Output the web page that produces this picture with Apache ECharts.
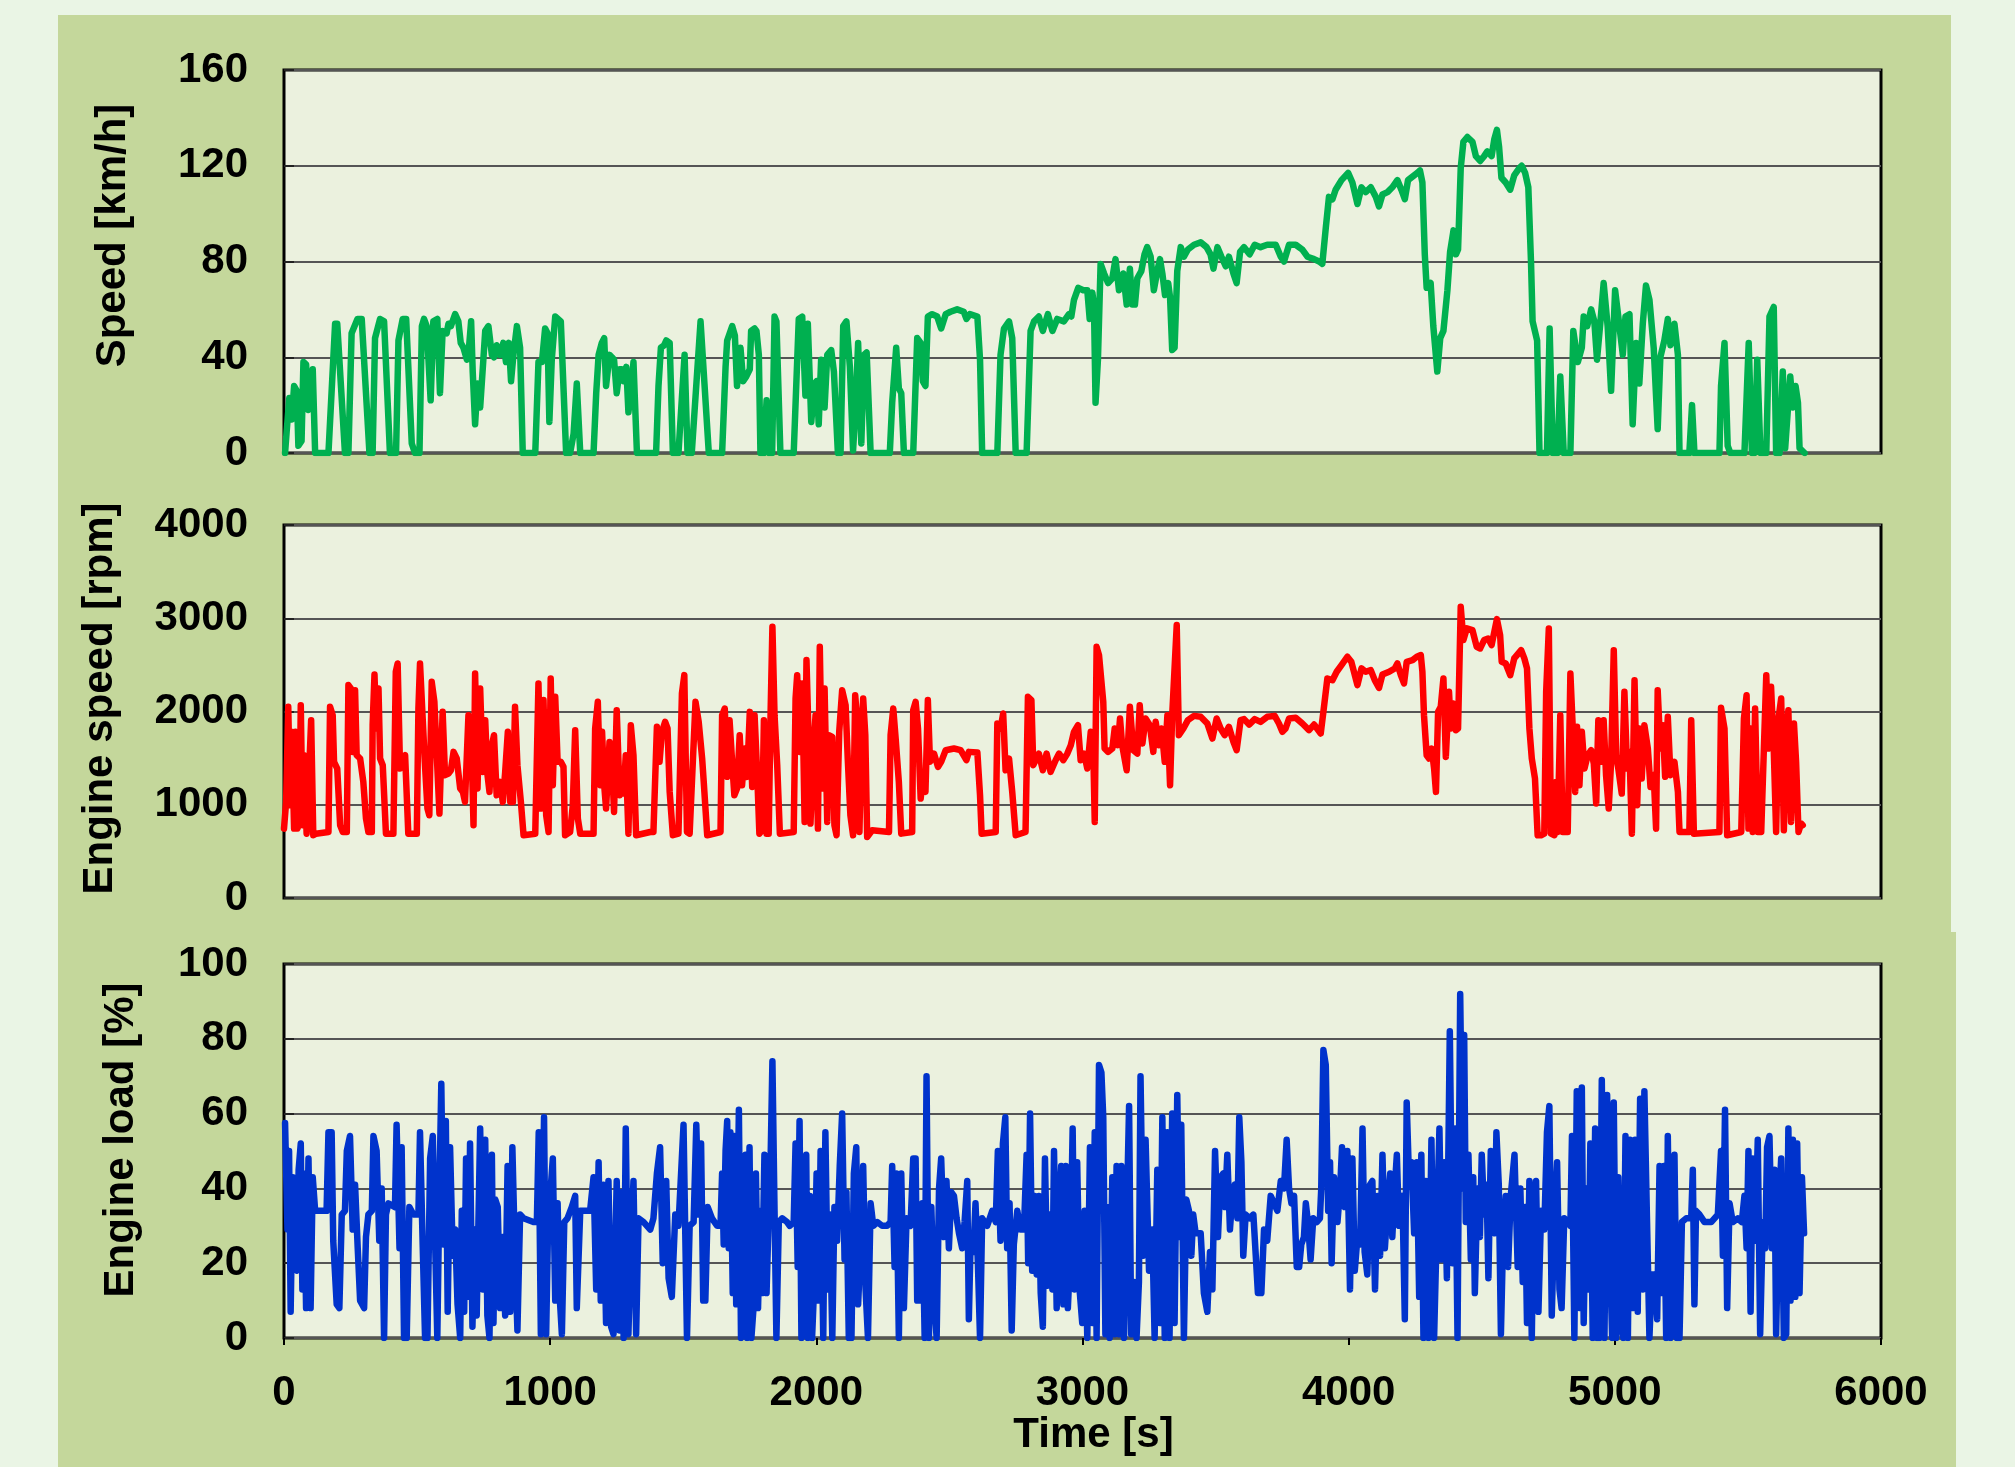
<!DOCTYPE html>
<html><head><meta charset="utf-8">
<script src="https://cdn.jsdelivr.net/npm/echarts/dist/echarts.min.js"></script>
<style>html,body{margin:0;padding:0;background:#eaf5e5;}#c{width:2015px;height:1467px;}</style>
</head><body><div id="c"></div>
<script>
// [time s, speed km/h]
const speedData = [[4,0],[10,9],[20,23],[29,14],[38,28],[48,26],[54,3],[66,5],[73,38],[83,37],[91,18],[100,19],[108,35],[117,0],[167,0],[192,54],[200,54],[229,0],[242,0],[254,50],[276,56],[292,56],[321,0],[333,0],[342,48],[361,56],[376,55],[398,0],[421,0],[430,47],[446,56],[459,56],[480,4],[492,0],[509,0],[518,53],[526,56],[536,53],[551,22],[561,55],[576,56],[586,25],[596,51],[611,50],[618,54],[627,53],[643,58],[655,55],[664,46],[674,44],[687,39],[695,44],[703,55],[709,34],[718,12],[727,29],[737,19],[749,39],[756,51],[768,53],[781,41],[789,40],[799,45],[812,41],[824,46],[834,38],[845,46],[853,30],[862,41],[875,53],[887,44],[897,0],[944,0],[956,38],[969,38],[981,52],[990,50],[997,13],[1006,39],[1019,57],[1040,55],[1060,0],[1075,0],[1088,8],[1100,29],[1113,0],[1163,0],[1173,25],[1182,41],[1194,46],[1203,48],[1210,28],[1223,41],[1232,40],[1240,39],[1250,25],[1261,35],[1269,35],[1276,30],[1286,36],[1294,17],[1303,25],[1313,38],[1326,0],[1398,0],[1407,28],[1416,44],[1428,45],[1436,47],[1449,46],[1461,0],[1482,0],[1505,41],[1516,0],[1532,0],[1565,55],[1596,0],[1646,0],[1659,36],[1665,47],[1684,53],[1694,49],[1702,28],[1715,44],[1725,30],[1737,32],[1750,35],[1755,51],[1768,52],[1775,51],[1784,41],[1790,0],[1803,0],[1813,22],[1823,0],[1834,0],[1843,57],[1850,55],[1865,0],[1915,0],[1934,56],[1947,57],[1959,24],[1968,54],[1981,13],[1993,29],[2001,30],[2009,12],[2018,39],[2031,19],[2041,41],[2056,43],[2066,34],[2081,0],[2091,0],[2101,53],[2113,55],[2126,36],[2138,1],[2147,18],[2157,46],[2169,4],[2179,41],[2189,42],[2204,0],[2276,0],[2285,21],[2300,44],[2310,27],[2319,25],[2329,0],[2364,0],[2379,48],[2392,46],[2400,30],[2410,28],[2419,57],[2435,58],[2454,57],[2469,52],[2486,58],[2504,59],[2529,60],[2554,59],[2564,56],[2577,58],[2605,57],[2615,39],[2623,0],[2680,0],[2692,41],[2705,52],[2724,55],[2736,48],[2749,0],[2790,0],[2805,51],[2818,55],[2836,57],[2851,51],[2870,58],[2887,51],[2905,56],[2930,55],[2949,58],[2958,57],[2968,64],[2984,69],[3003,68],[3018,68],[3027,56],[3037,67],[3043,62],[3049,21],[3058,39],[3068,79],[3081,75],[3096,71],[3112,73],[3124,81],[3137,68],[3153,75],[3166,62],[3178,77],[3187,62],[3197,62],[3206,73],[3221,76],[3233,83],[3243,86],[3256,82],[3268,68],[3281,76],[3291,81],[3300,75],[3310,66],[3322,71],[3329,65],[3337,43],[3346,44],[3356,76],[3369,86],[3381,82],[3396,85],[3419,87],[3444,88],[3466,86],[3481,83],[3492,77],[3507,86],[3522,82],[3538,78],[3550,82],[3567,75],[3579,71],[3592,84],[3607,86],[3628,83],[3647,87],[3669,86],[3694,87],[3726,87],[3745,82],[3757,80],[3776,87],[3801,87],[3826,85],[3845,82],[3870,81],[3889,80],[3901,79],[3914,94],[3926,107],[3939,106],[3951,110],[3973,114],[3998,117],[4014,113],[4033,104],[4048,111],[4064,109],[4083,111],[4102,107],[4114,103],[4127,108],[4146,109],[4164,111],[4183,114],[4198,110],[4211,106],[4223,114],[4246,116],[4258,117],[4268,118],[4277,113],[4286,83],[4293,69],[4308,71],[4318,53],[4333,34],[4344,48],[4356,51],[4371,68],[4381,84],[4394,93],[4403,83],[4411,85],[4421,119],[4431,130],[4446,132],[4465,130],[4478,124],[4494,122],[4509,124],[4521,126],[4537,124],[4547,131],[4557,135],[4565,128],[4574,115],[4590,113],[4607,110],[4622,116],[4641,119],[4650,120],[4663,117],[4675,111],[4685,80],[4691,55],[4708,47],[4717,0],[4745,0],[4755,52],[4767,0],[4785,0],[4795,32],[4808,0],[4833,0],[4844,51],[4861,38],[4876,44],[4883,57],[4896,53],[4911,60],[4923,55],[4933,39],[4946,55],[4958,71],[4973,53],[4986,26],[5001,68],[5013,57],[5030,41],[5040,57],[5055,58],[5067,12],[5080,46],[5092,29],[5105,54],[5117,70],[5130,64],[5146,44],[5161,10],[5171,40],[5186,47],[5199,56],[5209,45],[5224,54],[5237,41],[5243,0],[5280,0],[5290,20],[5299,0],[5393,0],[5399,28],[5412,46],[5424,3],[5434,0],[5487,0],[5503,46],[5515,0],[5525,0],[5535,39],[5547,0],[5569,0],[5581,57],[5597,61],[5606,0],[5619,0],[5631,34],[5640,2],[5650,18],[5659,32],[5669,19],[5679,28],[5688,21],[5694,2],[5713,0]];

// [time s, engine speed rpm]
const rpmData = [[0,744],[8,1030],[16,2050],[23,995],[29,1782],[38,744],[43,1782],[50,744],[58,798],[63,2068],[70,780],[75,1531],[85,690],[92,673],[102,1907],[110,673],[120,690],[167,708],[173,2050],[183,1960],[188,1460],[200,1388],[211,780],[221,708],[236,708],[242,2283],[251,2247],[258,1567],[267,2229],[273,1531],[286,1496],[298,1245],[308,852],[317,708],[330,708],[333,1853],[340,2397],[346,1818],[355,2247],[361,1496],[371,1424],[383,690],[411,690],[420,2426],[427,2515],[436,1388],[446,1496],[455,1531],[467,690],[499,690],[505,2032],[511,2515],[521,1925],[529,1460],[539,959],[546,887],[555,2318],[565,2104],[574,1531],[584,905],[596,1996],[605,1317],[618,1335],[627,1370],[637,1567],[649,1496],[662,1174],[672,1138],[680,1030],[693,1960],[702,1925],[712,780],[718,2408],[727,1174],[737,2247],[747,1352],[756,1907],[764,1335],[772,1138],[781,1639],[789,1746],[799,1102],[812,1245],[822,1030],[831,1352],[841,1782],[850,1030],[860,1030],[868,2050],[877,1424],[890,1030],[900,673],[944,690],[956,2301],[965,959],[975,2122],[985,887],[994,708],[1002,2354],[1010,1209],[1019,2157],[1028,1460],[1040,1460],[1050,1406],[1056,673],[1075,708],[1085,995],[1094,1800],[1104,852],[1113,690],[1163,690],[1169,1818],[1179,2104],[1188,1209],[1195,1782],[1203,1209],[1210,959],[1223,1674],[1232,1460],[1240,923],[1250,2014],[1261,1102],[1269,1352],[1276,1120],[1284,1531],[1294,690],[1303,1853],[1313,1531],[1323,673],[1376,708],[1388,708],[1401,1836],[1411,1460],[1420,1782],[1432,1889],[1441,1818],[1449,1138],[1461,673],[1482,690],[1495,2193],[1504,2390],[1514,708],[1524,690],[1546,2104],[1558,1889],[1571,1496],[1577,1245],[1590,673],[1640,708],[1646,1960],[1656,2032],[1665,1299],[1674,1907],[1684,1442],[1692,1102],[1702,1174],[1712,1746],[1721,1209],[1731,1603],[1740,1299],[1750,1996],[1759,1191],[1768,1960],[1778,1317],[1786,690],[1796,726],[1803,1907],[1813,690],[1821,690],[1828,1960],[1835,2909],[1843,1960],[1853,1424],[1863,690],[1915,708],[1922,2140],[1928,2390],[1938,1567],[1947,2301],[1956,816],[1963,2551],[1972,1603],[1978,798],[1988,1531],[1997,1960],[2006,744],[2013,2694],[2022,1174],[2031,2247],[2041,816],[2047,1746],[2060,1728],[2068,780],[2076,673],[2086,1782],[2097,2229],[2110,2068],[2118,1496],[2128,887],[2138,673],[2146,2175],[2154,1889],[2162,708],[2169,1674],[2176,2140],[2184,1746],[2191,655],[2210,726],[2273,708],[2279,1746],[2289,2032],[2298,1710],[2310,1245],[2319,690],[2360,708],[2364,2014],[2373,2104],[2382,1818],[2392,1066],[2400,1281],[2410,1138],[2419,2122],[2427,1460],[2442,1549],[2457,1406],[2469,1460],[2486,1585],[2517,1603],[2542,1585],[2564,1478],[2573,1567],[2605,1560],[2615,1102],[2621,690],[2674,708],[2680,1871],[2692,1818],[2702,1978],[2711,1370],[2724,1496],[2736,1138],[2749,673],[2786,708],[2795,2157],[2808,2122],[2815,1424],[2836,1549],[2851,1370],[2865,1549],[2880,1352],[2899,1478],[2912,1549],[2928,1478],[2943,1549],[2956,1639],[2968,1782],[2983,1853],[2993,1478],[3006,1549],[3018,1388],[3031,1782],[3041,1513],[3046,816],[3053,2694],[3062,2605],[3078,2104],[3083,1603],[3096,1567],[3112,1603],[3121,1818],[3133,1639],[3141,1925],[3149,1639],[3166,1370],[3178,2050],[3191,1585],[3206,1549],[3215,2068],[3225,1657],[3237,1925],[3253,1853],[3266,1567],[3275,1889],[3287,1639],[3297,1818],[3309,1460],[3319,1960],[3329,1209],[3337,1960],[3354,2927],[3362,1746],[3379,1818],[3396,1907],[3419,1953],[3444,1943],[3469,1871],[3488,1710],[3504,1925],[3519,1818],[3534,1746],[3550,1836],[3567,1674],[3579,1585],[3594,1907],[3607,1918],[3626,1860],[3647,1918],[3669,1889],[3694,1943],[3722,1953],[3738,1871],[3751,1782],[3763,1818],[3776,1925],[3801,1932],[3826,1871],[3851,1800],[3870,1860],[3895,1764],[3905,1996],[3920,2354],[3939,2336],[3955,2426],[3973,2497],[3995,2587],[4010,2533],[4033,2283],[4048,2462],[4064,2426],[4083,2444],[4098,2336],[4114,2254],[4127,2397],[4152,2426],[4173,2462],[4183,2515],[4196,2390],[4208,2301],[4218,2533],[4240,2551],[4256,2587],[4271,2605],[4277,2426],[4283,1960],[4293,1531],[4302,1496],[4312,1603],[4321,1388],[4328,1138],[4336,1996],[4346,2050],[4356,2354],[4365,1513],[4377,2211],[4384,1818],[4394,2086],[4403,1800],[4411,1818],[4421,3123],[4431,2766],[4444,2891],[4465,2873],[4481,2694],[4494,2676],[4509,2766],[4524,2783],[4537,2712],[4557,2991],[4569,2819],[4575,2533],[4590,2515],[4607,2390],[4622,2569],[4648,2658],[4660,2569],[4670,2462],[4679,1818],[4688,1496],[4700,1281],[4710,673],[4723,673],[4735,690],[4742,2211],[4752,2891],[4760,690],[4773,673],[4779,1245],[4785,708],[4795,1960],[4804,708],[4823,708],[4833,2408],[4842,1818],[4851,1138],[4858,1836],[4867,1209],[4876,1782],[4886,1388],[4898,1531],[4911,1585],[4921,1442],[4930,1013],[4938,1907],[4948,1460],[4958,1907],[4967,1317],[4977,959],[4986,1460],[4996,2658],[5005,1531],[5013,1388],[5026,1120],[5036,2211],[5046,1388],[5055,1567],[5064,690],[5074,2336],[5084,995],[5092,1818],[5101,1281],[5111,1853],[5124,1603],[5134,1191],[5146,1317],[5155,744],[5161,2229],[5171,1603],[5180,1853],[5189,1299],[5199,1943],[5209,1317],[5224,1460],[5237,1138],[5243,708],[5280,708],[5287,1907],[5297,690],[5393,708],[5399,2039],[5412,1818],[5422,673],[5475,708],[5485,1925],[5495,2175],[5502,744],[5510,1818],[5518,708],[5527,2032],[5537,708],[5550,708],[5560,1603],[5569,2390],[5577,1603],[5587,2265],[5597,1603],[5606,708],[5615,1925],[5625,2140],[5635,726],[5644,1746],[5652,2014],[5662,816],[5673,1871],[5681,1460],[5690,708],[5700,798],[5706,780]];

// [time s, engine load %]
const loadData = [[4,57.5],[13,29],[19,50],[25,7],[33,43],[40,19],[48,18],[55,45],[63,52],[69,13],[75,44],[83,8],[92,48],[100,8],[108,43],[117,34],[160,34],[167,55],[179,55],[185,26],[198,9],[208,8],[217,33],[229,34],[236,50],[248,54],[258,29],[267,41],[277,24],[286,10],[301,8],[308,27],[317,33],[330,34],[336,54],[348,50],[358,26],[367,40],[376,0],[383,33],[392,36],[417,35],[423,57],[434,24],[442,51],[451,0],[461,0],[471,35],[486,33],[505,33],[511,55],[521,25],[530,0],[539,0],[549,48],[559,54],[568,25],[576,0],[584,40],[591,68],[599,25],[608,58],[615,7],[624,51],[634,22],[643,29],[652,9],[662,0],[668,34],[677,7],[684,48],[693,11],[699,52],[708,3],[716,29],[724,6],[737,56],[747,13],[756,53],[764,6],[772,0],[781,49],[787,4],[794,37],[803,35],[812,8],[821,27],[831,6],[840,46],[850,7],[858,51],[868,22],[877,2],[887,33],[900,32],[937,31],[950,31],[957,55],[965,1],[977,59],[985,1],[994,38],[1002,40],[1010,48],[1019,10],[1028,36],[1035,12],[1044,1],[1053,31],[1065,32],[1081,35],[1094,38],[1100,8],[1113,34],[1150,34],[1163,43],[1173,13],[1182,47],[1190,10],[1200,41],[1210,4],[1219,42],[1229,3],[1238,1],[1250,42],[1261,2],[1269,39],[1276,0],[1284,56],[1294,1],[1303,25],[1313,42],[1323,1],[1332,32],[1351,31],[1376,29],[1388,32],[1401,44],[1413,51],[1423,20],[1436,42],[1445,16],[1457,11],[1470,33],[1482,30],[1501,57],[1514,0],[1524,30],[1539,31],[1549,57],[1558,33],[1567,52],[1575,10],[1583,10],[1592,35],[1608,32],[1627,30],[1640,30],[1646,44],[1652,25],[1659,50],[1665,58],[1671,24],[1677,55],[1686,12],[1692,54],[1699,9],[1709,61],[1717,0],[1725,22],[1734,49],[1740,0],[1749,51],[1756,0],[1765,9],[1773,44],[1781,8],[1790,34],[1796,12],[1805,49],[1813,12],[1821,33],[1828,47],[1835,74],[1843,34],[1850,0],[1859,31],[1872,32],[1890,31],[1900,30],[1915,31],[1922,52],[1930,19],[1937,58],[1944,0],[1953,38],[1962,49],[1968,0],[1976,38],[1984,0],[1993,16],[2001,44],[2009,10],[2016,50],[2026,0],[2034,55],[2043,13],[2051,33],[2060,0],[2068,35],[2078,26],[2088,46],[2097,60],[2106,21],[2113,39],[2122,0],[2132,0],[2141,44],[2150,51],[2157,9],[2166,24],[2176,46],[2185,13],[2194,0],[2204,36],[2214,30],[2229,31],[2247,30],[2266,30],[2279,31],[2285,46],[2294,19],[2301,44],[2310,0],[2319,44],[2329,8],[2339,32],[2354,30],[2364,48],[2373,48],[2379,10],[2389,10],[2398,36],[2407,0],[2414,70],[2423,0],[2432,35],[2442,11],[2452,0],[2461,40],[2469,48],[2479,27],[2489,42],[2498,24],[2507,39],[2517,38],[2527,32],[2536,28],[2548,24],[2557,31],[2567,42],[2573,5],[2580,27],[2590,23],[2598,36],[2607,20],[2615,0],[2623,32],[2642,30],[2661,34],[2674,31],[2682,50],[2692,26],[2701,52],[2710,59],[2717,24],[2726,36],[2734,2],[2742,25],[2755,34],[2767,29],[2780,29],[2790,49],[2796,20],[2803,60],[2811,18],[2820,38],[2828,17],[2836,38],[2843,12],[2851,3],[2859,48],[2868,14],[2878,33],[2887,13],[2893,50],[2903,8],[2912,35],[2920,46],[2928,9],[2937,46],[2945,8],[2955,24],[2963,56],[2970,13],[2980,47],[2989,13],[2999,4],[3008,34],[3018,0],[3028,51],[3037,4],[3046,55],[3053,0],[3062,73],[3071,71],[3078,59],[3086,1],[3093,35],[3102,0],[3112,43],[3121,1],[3128,46],[3137,1],[3146,46],[3156,0],[3166,32],[3175,62],[3183,1],[3193,15],[3203,0],[3212,15],[3218,70],[3228,22],[3237,53],[3250,18],[3262,29],[3271,0],[3281,45],[3291,4],[3300,59],[3309,0],[3319,55],[3327,0],[3337,60],[3346,4],[3356,65],[3364,27],[3371,57],[3381,0],[3390,37],[3400,34],[3409,22],[3416,33],[3425,28],[3444,28],[3456,12],[3469,7],[3479,23],[3488,13],[3498,50],[3509,27],[3519,43],[3529,44],[3535,35],[3544,49],[3554,29],[3563,38],[3572,41],[3582,32],[3589,59],[3597,47],[3604,22],[3613,33],[3629,32],[3642,33],[3651,22],[3659,12],[3672,12],[3682,29],[3694,26],[3707,38],[3720,36],[3732,34],[3745,42],[3757,40],[3767,53],[3776,40],[3785,36],[3795,38],[3805,19],[3814,19],[3822,25],[3832,27],[3839,36],[3847,31],[3857,21],[3867,32],[3880,31],[3892,32],[3897,40],[3905,77],[3914,73],[3923,34],[3930,47],[3936,20],[3945,43],[3958,31],[3968,40],[3975,51],[3985,35],[3995,50],[4005,13],[4014,48],[4023,18],[4033,27],[4043,25],[4052,56],[4060,23],[4070,17],[4080,41],[4089,42],[4099,13],[4108,38],[4118,22],[4127,49],[4136,24],[4146,35],[4156,44],[4164,27],[4173,40],[4181,49],[4189,30],[4202,38],[4211,5],[4218,63],[4227,42],[4236,47],[4246,28],[4256,47],[4265,11],[4273,49],[4281,0],[4290,42],[4300,0],[4311,53],[4321,0],[4331,29],[4341,56],[4349,21],[4359,47],[4369,16],[4380,82],[4390,20],[4400,56],[4409,0],[4419,92],[4428,40],[4434,81],[4440,31],[4450,49],[4459,21],[4468,43],[4474,12],[4484,40],[4493,27],[4500,49],[4509,33],[4518,41],[4525,16],[4534,50],[4542,45],[4549,28],[4555,55],[4564,41],[4572,1],[4580,26],[4590,38],[4599,19],[4609,38],[4623,49],[4635,19],[4645,40],[4654,15],[4663,35],[4670,4],[4679,42],[4688,0],[4695,35],[4704,42],[4713,7],[4723,34],[4735,29],[4745,55],[4754,62],[4763,6],[4773,32],[4783,47],[4792,13],[4800,8],[4810,32],[4823,31],[4833,30],[4839,54],[4848,0],[4857,66],[4867,8],[4876,67],[4883,4],[4892,40],[4901,13],[4908,52],[4917,0],[4926,56],[4933,0],[4942,0],[4951,69],[4961,0],[4971,65],[4980,26],[4990,0],[4996,63],[5005,0],[5013,43],[5023,4],[5032,0],[5040,54],[5049,0],[5057,53],[5066,8],[5076,53],[5086,7],[5095,64],[5105,13],[5111,66],[5121,31],[5130,0],[5139,17],[5149,17],[5159,5],[5168,46],[5176,12],[5184,46],[5193,0],[5199,54],[5209,0],[5216,31],[5224,49],[5233,0],[5243,0],[5252,31],[5268,32],[5287,32],[5293,45],[5299,9],[5305,34],[5318,33],[5337,31],[5362,31],[5387,33],[5399,50],[5406,22],[5414,61],[5422,8],[5431,36],[5443,31],[5462,32],[5477,31],[5487,38],[5495,24],[5502,50],[5510,7],[5518,48],[5527,26],[5537,53],[5546,1],[5556,31],[5565,24],[5572,51],[5581,54],[5590,24],[5600,45],[5606,1],[5615,33],[5625,48],[5635,0],[5644,1],[5652,56],[5660,10],[5669,53],[5678,11],[5685,52],[5694,12],[5703,43],[5711,28]];

const axisNames = ['Speed [km/h]', 'Engine speed [rpm]', 'Engine load [%]'];
const xAxisName = 'Time [s]';
const yRanges = [[0,160,40],[0,4000,1000],[0,100,20]];
const xRange = [0,6000,1000];
const seriesColors = ['#00b050','#ff0000','#0033cc'];

const FONT = '"Liberation Sans", Arial, sans-serif';
const txt = {fontFamily: FONT, fontSize: 42, fontWeight: 'bold', color: '#000'};
const plain = v => String(v);
const gridBoxes = [
  {top: 70, height: 383},
  {top: 525, height: 373},
  {top: 964, height: 374}
];
const nameGaps = [150, 163, 142];
const nameShift = [52, 26, 22];
const allData = [speedData, rpmData, loadData];

const chart = echarts.init(document.getElementById('c'));
chart.setOption({
  animation: false,
  backgroundColor: '#eaf5e5',
  graphic: [
    {type: 'rect', z: -100, silent: true, shape: {x: 58, y: 15, width: 1893, height: 1452}, style: {fill: '#c4d79b'}},
    {type: 'rect', z: -100, silent: true, shape: {x: 58, y: 932, width: 1898, height: 535}, style: {fill: '#c4d79b'}}
  ],
  grid: gridBoxes.map(g => ({
    left: 284, right: 134, top: g.top, height: g.height,
    show: true, backgroundColor: '#ebf1de', borderColor: '#000', borderWidth: 3,
    containLabel: false, outerBoundsMode: 'none'
  })),
  xAxis: [0,1,2].map(i => ({
    type: 'value', gridIndex: i, min: xRange[0], max: xRange[1], interval: xRange[2],
    axisLine: {show: false},
    splitLine: {show: false},
    axisTick: {show: i === 2, length: 7, lineStyle: {color: '#000', width: 2}},
    axisLabel: Object.assign({show: i === 2, margin: 34, formatter: plain}, txt),
    name: i === 2 ? xAxisName : '',
    nameLocation: 'middle', nameGap: 74,
    nameTextStyle: Object.assign({padding: [0, 0, 0, 22]}, txt)
  })),
  yAxis: [0,1,2].map(i => ({
    type: 'value', gridIndex: i, min: yRanges[i][0], max: yRanges[i][1], interval: yRanges[i][2],
    axisLine: {show: false},
    axisTick: {show: true, inside: true, length: 10, lineStyle: {color: '#222', width: 2}},
    splitLine: {show: true, lineStyle: {color: '#555', width: 2}},
    axisLabel: Object.assign({margin: 36, formatter: plain}, txt),
    name: axisNames[i], nameLocation: 'middle', nameGap: nameGaps[i],
    nameTextStyle: Object.assign({padding: [0, 0, 0, nameShift[i]]}, txt)
  })),
  series: [0,1,2].map(i => ({
    type: 'line', xAxisIndex: i, yAxisIndex: i,
    data: allData[i], showSymbol: false, symbol: 'none',
    lineStyle: {color: seriesColors[i], width: 6.5, join: 'round', cap: 'round'},
    itemStyle: {color: seriesColors[i]},
    z: 5
  }))
});
</script></body></html>
